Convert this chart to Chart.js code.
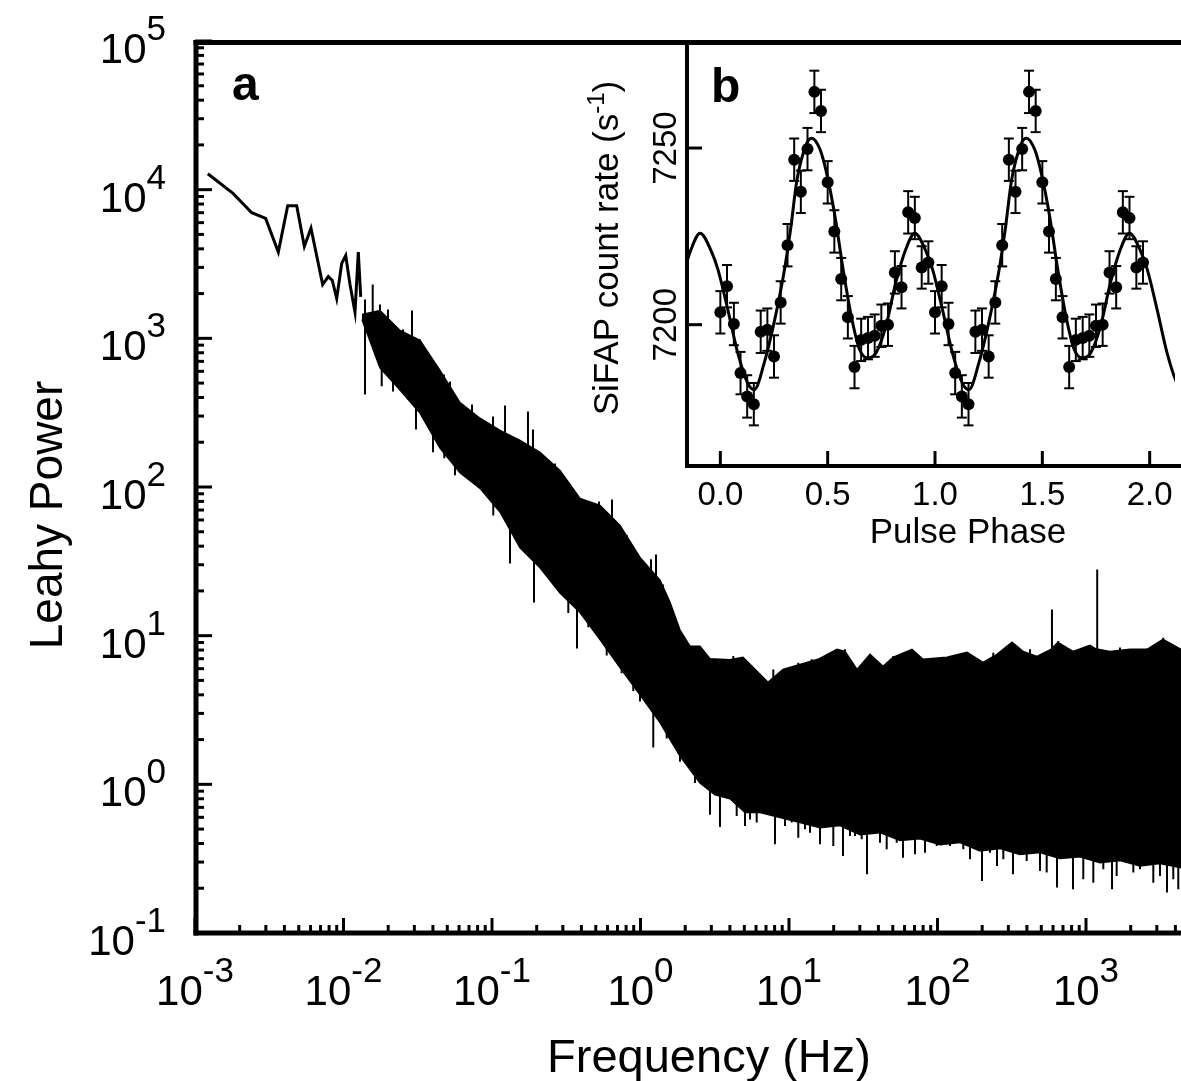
<!DOCTYPE html>
<html>
<head>
<meta charset="utf-8">
<script src="https://cdn.jsdelivr.net/npm/chart.js@4.4.1/dist/chart.umd.min.js"></script>
<style>
  html, body { margin: 0; padding: 0; background: #fff; overflow: hidden; }
  #wrap { position: relative; width: 1181px; height: 1081px; }
  #wrap canvas { position: absolute; left: 0; top: 0; }
</style>
</head>
<body>
<div id="wrap">
  <canvas id="main" width="1181" height="1081"></canvas>
  <canvas id="inset" width="1181" height="1081"></canvas>
</div>
<script>
// ---- panel a : Leahy power spectrum ----

// lowest frequency bins, drawn as a single line
const lowFreq  = [0.00122, 0.00181, 0.00241, 0.00299, 0.00364, 0.00421, 0.00484, 0.00545, 0.00604, 0.00724,
                  0.00790, 0.00841, 0.00900, 0.00973, 0.01035, 0.01106, 0.01195, 0.01258, 0.01306];
const lowPower = [12800, 9400, 7000, 6400, 3800, 7800, 7800, 4150, 5500, 2300,
                  2600, 2450, 1850, 3200, 3600, 2300, 1500, 3800, 1900];

// dense part: upper edge of the solid noise band
const topFreq  = [0.01332, 0.01761, 0.02402, 0.03274, 0.04465, 0.06087, 0.08302, 0.1132, 0.1544, 0.2105,
                  0.2870, 0.3914, 0.5337, 0.7278, 0.9922, 1.353, 1.580, 1.845, 2.154, 2.516,
                  2.938, 4.006, 4.900, 6.682, 7.222, 9.113, 11.86, 15.68, 21.05, 23.84,
                  28.70, 35.12, 42.95, 50.14, 67.34, 79.89, 115.9, 158.0, 202.5, 251.6,
                  317.6, 376.5, 467.7, 581, 599, 647.8, 817.4, 1064, 1177, 1204,
                  1451, 1978, 2576, 3300, 4363];
const topPower = [1448, 1540, 1130, 968, 608, 370, 290, 240, 206, 171,
                  129, 83.8, 75.2, 55.2, 33.6, 23.6, 16.8, 10.9, 8.5, 8.5,
                  7.0, 6.9, 7.15, 5.24, 4.85, 5.93, 6.41, 6.93, 8.09, 7.84,
                  5.93, 7.48, 6.22, 7.15, 8.09, 6.93, 7.15, 7.72, 6.61, 7.48,
                  9.02, 7.84, 7.26, 8.09, 8.34, 9.02, 7.84, 8.61, 8.09, 8.09,
                  7.84, 8.09, 8.09, 9.44, 8.09];

// lower edge of the solid noise band
const botFreq  = [0.01332, 0.01761, 0.02402, 0.03274, 0.04465, 0.06087, 0.08302, 0.1132, 0.1544, 0.2105,
                  0.2870, 0.3914, 0.5337, 0.7278, 0.9922, 1.353, 1.845, 2.516, 3.175, 4.006,
                  5.055, 6.378, 8.699, 11.86, 16.18, 22.05, 30.07, 41.01, 55.92, 76.25,
                  104.0, 141.8, 193.3, 263.7, 359.4, 490.0, 668.2, 911.2, 1243, 1694,
                  2310, 3150, 4363];
const botPower = [1340, 632, 449, 314, 183, 125, 98, 68, 39, 28.6,
                  19.4, 14.3, 9.4, 6.1, 4.0, 2.6, 1.55, 1.02, 0.85, 0.80,
                  0.646, 0.646, 0.598, 0.553, 0.511, 0.528, 0.459, 0.473, 0.419, 0.431,
                  0.393, 0.406, 0.356, 0.370, 0.337, 0.348, 0.317, 0.326, 0.297, 0.307,
                  0.282, 0.293, 0.275];

// single bins sticking out above the band (tip, and where they leave the band)
const upFreq = [0.01396, 0.01573, 0.01761, 0.01994, 0.02516, 0.02893, 0.03274, 0.04750, 0.05215, 0.07333,
                0.1016, 0.1224, 0.1592, 0.1747, 0.1888, 0.2655, 0.4431, 0.5254, 0.6428, 0.8111,
                1.177, 1.272, 1.417, 4.217, 7.841, 11.55, 14.22, 20.95, 23.84, 35.12,
                50.40, 67.04, 118.2, 161.2, 237.5, 316.0, 419.7, 590, 651, 1064,
                1190, 1694, 2563, 3316, 4081];
const upTip  = [1827, 2304, 1690, 1564, 1148, 1540, 983, 572, 513, 359,
                298, 354, 193, 322, 244, 144, 77.6, 80.0, 82.5, 47.3,
                32.6, 35.2, 22.1, 7.29, 5.93, 6.58, 6.93, 8.09, 8.09, 7.48,
                7.29, 8.09, 7.11, 7.69, 7.69, 8.97, 8.09, 15.0, 9.20, 8.61,
                27.9, 8.31, 8.18, 9.70, 8.31];
const upBase = [1430, 1400, 1340, 1180, 960, 900, 842, 480, 420, 270,
                225, 200, 175, 170, 160, 118, 70, 65, 55, 40,
                23, 22, 18, 5.8, 4.7, 5.3, 5.5, 6.5, 6.5, 6.0,
                5.8, 6.5, 5.7, 6.2, 6.2, 7.2, 6.5, 7.5, 7.4, 6.9,
                7.5, 6.6, 6.5, 7.8, 6.6];

// single bins sticking out below the band
const dnFreq = [0.01396, 0.01808, 0.02154, 0.02719, 0.03078, 0.04006, 0.04774, 0.05632, 0.07482, 0.1020,
                0.1322, 0.1918, 0.2796, 0.3265, 0.3736, 0.4452, 0.5337, 0.5922, 0.7468, 0.8943,
                0.9922, 1.219, 1.501, 1.845, 2.328, 2.938, 3.430, 4.444, 5.055, 5.464,
                6.061, 7.449, 8.049, 9.399, 10.43, 11.55, 12.81, 13.85, 16.18, 19.88,
                23.10, 25.75, 27.82, 30.87, 33.52, 41.01, 45.49, 53.12, 58.58, 70.55,
                82.39, 98.8, 121.4, 149.2, 165.5, 199.4, 225.7, 251.6, 277.5, 322.5,
                398.7, 490.0, 543.7, 637.8, 817.4, 958.9, 1120, 1308, 1497, 1609,
                2083, 2310, 2840, 3150, 3512, 3871, 4183];
const dnTip  = [419, 476, 439, 388, 244, 171, 156, 120, 107, 64.4,
                30.6, 16.7, 20.9, 14.2, 8.21, 11.4, 9.68, 7.36, 5.59, 4.25,
                3.61, 1.77, 2.03, 1.42, 1.02, 0.624, 0.516, 0.612, 0.524, 0.581,
                0.553, 0.645, 0.395, 0.524, 0.553, 0.438, 0.498, 0.473, 0.395, 0.385,
                0.330, 0.449, 0.449, 0.427, 0.248, 0.405, 0.366, 0.405, 0.321, 0.338,
                0.347, 0.385, 0.385, 0.366, 0.313, 0.224, 0.347, 0.282, 0.313, 0.248,
                0.305, 0.261, 0.255, 0.202, 0.197, 0.230, 0.218, 0.268, 0.197, 0.242,
                0.255, 0.268, 0.218, 0.242, 0.187, 0.230, 0.197];
const dnBase = [1240, 817, 678, 529, 468, 303, 226, 182, 142, 104,
                68.5, 40.5, 27.1, 22.1, 19.6, 15.5, 12.5, 10.7, 7.84, 6.12,
                5.32, 4.09, 2.91, 2.07, 1.22, 1.0, 0.95, 0.95, 0.9, 0.9,
                0.9, 0.85, 0.8, 0.8, 0.78, 0.75, 0.72, 0.72, 0.7, 0.7,
                0.7, 0.65, 0.62, 0.62, 0.62, 0.6, 0.6, 0.57, 0.57, 0.56,
                0.55, 0.55, 0.53, 0.52, 0.5, 0.48, 0.48, 0.48, 0.47, 0.45,
                0.45, 0.45, 0.43, 0.42, 0.42, 0.42, 0.4, 0.4, 0.4, 0.4,
                0.38, 0.38, 0.38, 0.38, 0.38, 0.36, 0.36];

// axis decades and their exponent labels
const xDecades = [1e-3, 1e-2, 1e-1, 1, 10, 100, 1000];
const xExpLabels = ['-3', '-2', '-1', '0', '1', '2', '3'];
const yDecades = [1e-1, 1, 10, 100, 1000, 1e4, 1e5];
const yExpLabels = ['-1', '0', '1', '2', '3', '4', '5'];

// ---- panel b : folded pulse profile ----
const phase = [0.000, 0.031, 0.063, 0.094, 0.125, 0.156, 0.188, 0.219, 0.250, 0.281,
               0.313, 0.344, 0.375, 0.406, 0.438, 0.469, 0.500, 0.531, 0.563, 0.594,
               0.625, 0.656, 0.688, 0.719, 0.750, 0.781, 0.813, 0.844, 0.875, 0.906,
               0.938, 0.969];
const rate  = [7203.5, 7210.9, 7200.2, 7186.3, 7179.7, 7177.5, 7198.0, 7198.6, 7191.0, 7206.3,
               7222.5, 7246.7, 7237.6, 7249.7, 7265.9, 7260.5, 7240.3, 7226.4, 7212.9, 7202.1,
               7188.0, 7195.7, 7196.2, 7196.9, 7199.7, 7200.0, 7214.8, 7210.6, 7231.8, 7230.2,
               7216.2, 7217.6];
const rateErr = [6, 6, 6, 6, 6, 6, 6, 6, 6, 6,
                 6, 6, 6, 6, 6, 6, 6, 6, 6, 6,
                 6, 6, 6, 6, 6, 6, 6, 6, 6, 6,
                 6, 6];
// model curve, one cycle
const fitPhase = [0.035, 0.081, 0.127, 0.158, 0.204, 0.250, 0.296, 0.327, 0.357, 0.403,
                  0.426, 0.465, 0.495, 0.534, 0.572, 0.610, 0.649, 0.687, 0.725, 0.771,
                  0.817, 0.863, 0.906, 0.955, 0.989];
const fitRate  = [7204.2, 7192.0, 7183.5, 7181.6, 7189.1, 7200.5, 7214.6, 7226.9, 7241.0, 7251.4,
                  7252.8, 7249.5, 7242.9, 7230.7, 7215.6, 7202.4, 7192.9, 7190.6, 7192.0, 7199.5,
                  7211.8, 7221.2, 7225.9, 7221.2, 7215.6];
const phaseTicks = [0, 0.5, 1, 1.5, 2];
const phaseLabels = ['0.0', '0.5', '1.0', '1.5', '2.0'];
const rateTicks = [7200, 7250];
const rateLabels = ['7200', '7250'];

const FONT = '"Liberation Sans", Arial, Helvetica, sans-serif';

function pts(xs, ys) {
  return xs.map(function (v, i) { return { x: v, y: ys[i] }; });
}

// vertical segments, broken by null gaps
function spikes(xs, lo, hi) {
  const out = [];
  xs.forEach(function (v, i) {
    out.push({ x: v, y: lo[i] }, { x: v, y: hi[i] }, { x: v, y: null });
  });
  return out;
}

function seg(ctx, x1, y1, x2, y2) {
  ctx.beginPath();
  ctx.moveTo(x1, y1);
  ctx.lineTo(x2, y2);
  ctx.stroke();
}

// "10" with a raised exponent
function drawPow(ctx, exp, x, y, align) {
  ctx.font = '42px ' + FONT;
  const wb = ctx.measureText('10').width;
  ctx.font = '35px ' + FONT;
  const we = ctx.measureText(exp).width;
  const x0 = align === 'right' ? x - wb - we : x - (wb + we) / 2;
  ctx.textAlign = 'left';
  ctx.textBaseline = 'alphabetic';
  ctx.font = '42px ' + FONT;
  ctx.fillText('10', x0, y);
  ctx.font = '35px ' + FONT;
  ctx.fillText(exp, x0 + wb, y - 23);
}

// frame, inward ticks and labels of panel a
const frameA = {
  id: 'frameA',
  afterDraw(chart) {
    const ctx = chart.ctx, a = chart.chartArea;
    const x = chart.scales.x, y = chart.scales.y;
    ctx.save();
    ctx.strokeStyle = '#000';
    ctx.fillStyle = '#000';

    // minor + major ticks
    ctx.lineWidth = 3;
    for (let d = -3; d <= 4; d++) {
      for (let m = 1; m < 10; m++) {
        const v = m * Math.pow(10, d);
        if (v >= x.min && v <= x.max) {
          const px = x.getPixelForValue(v);
          seg(ctx, px, a.bottom, px, a.bottom - (m === 1 ? 15 : 8));
        }
      }
    }
    for (let d = -1; d <= 5; d++) {
      for (let m = 1; m < 10; m++) {
        const v = m * Math.pow(10, d);
        if (v >= y.min && v <= y.max * 1.0001) {
          const py = y.getPixelForValue(v);
          seg(ctx, a.left, py, a.left + (m === 1 ? 17 : 9), py);
        }
      }
    }

    // frame
    ctx.lineWidth = 5;
    seg(ctx, a.left + 1, a.top - 1, a.left + 1, a.bottom + 2.5);
    seg(ctx, a.left - 1.5, a.top + 1.5, chart.width, a.top + 1.5);
    seg(ctx, a.left - 1.5, a.bottom, chart.width, a.bottom);

    // tick labels
    xDecades.forEach(function (v, i) {
      drawPow(ctx, xExpLabels[i], x.getPixelForValue(v), a.bottom + 72, 'center');
    });
    yDecades.forEach(function (v, i) {
      drawPow(ctx, yExpLabels[i], 166, y.getPixelForValue(v) + 22, 'right');
    });

    // axis titles
    ctx.textAlign = 'center';
    ctx.textBaseline = 'alphabetic';
    ctx.font = '47px ' + FONT;
    ctx.fillText('Frequency (Hz)', 709, 1072);
    ctx.save();
    ctx.translate(62, 515);
    ctx.rotate(-Math.PI / 2);
    ctx.font = '46px ' + FONT;
    ctx.fillText('Leahy Power', 0, 0);
    ctx.restore();

    // panel letter
    ctx.textAlign = 'left';
    ctx.font = 'bold 48px ' + FONT;
    ctx.fillText('a', 232, 100);
    ctx.restore();
  }
};

new Chart(document.getElementById('main'), {
  type: 'line',
  data: {
    datasets: [
      { data: pts(lowFreq, lowPower), borderColor: '#000', borderWidth: 3, pointRadius: 0, fill: false },
      { data: pts(topFreq, topPower), borderColor: '#000', borderWidth: 1.5, pointRadius: 0,
        backgroundColor: '#000', fill: '+1' },
      { data: pts(botFreq, botPower), borderColor: '#000', borderWidth: 1.5, pointRadius: 0, fill: false },
      { data: spikes(upFreq, upBase, upTip), borderColor: '#000', borderWidth: 2, pointRadius: 0, fill: false },
      { data: spikes(dnFreq, dnBase, dnTip), borderColor: '#000', borderWidth: 2, pointRadius: 0, fill: false }
    ]
  },
  options: {
    responsive: false,
    animation: false,
    devicePixelRatio: 1,
    events: [],
    layout: { padding: { left: 195, top: 41, right: 0, bottom: 148 } },
    plugins: { legend: { display: false }, tooltip: { enabled: false } },
    scales: {
      x: { type: 'logarithmic', min: 0.001, max: 4363, display: false },
      y: { type: 'logarithmic', min: 0.1, max: 1e5, display: false }
    }
  },
  plugins: [frameA]
});

// ---- inset (panel b) ----
const fitPts = [];
[-1, 0, 1, 2].forEach(function (c) {
  fitPhase.forEach(function (p, i) { fitPts.push({ x: p + c, y: fitRate[i] }); });
});
const profPts = [], profErr = [];
[0, 1].forEach(function (c) {
  phase.forEach(function (p, i) { profPts.push({ x: p + c, y: rate[i] }); profErr.push(rateErr[i]); });
});

const frameB = {
  id: 'frameB',
  afterDatasetsDraw(chart) {
    const ctx = chart.ctx, a = chart.chartArea;
    const x = chart.scales.x, y = chart.scales.y;
    ctx.save();
    ctx.strokeStyle = '#000';
    ctx.fillStyle = '#000';

    // error bars
    ctx.lineWidth = 2;
    profPts.forEach(function (p, i) {
      const px = x.getPixelForValue(p.x);
      const y1 = y.getPixelForValue(p.y + profErr[i]);
      const y2 = y.getPixelForValue(p.y - profErr[i]);
      seg(ctx, px, y1, px, y2);
      seg(ctx, px - 5, y1, px + 5, y1);
      seg(ctx, px - 5, y2, px + 5, y2);
    });

    // ticks
    ctx.lineWidth = 3;
    phaseTicks.forEach(function (v) {
      const px = x.getPixelForValue(v);
      seg(ctx, px, a.bottom, px, a.bottom - 15);
    });
    rateTicks.forEach(function (v) {
      const py = y.getPixelForValue(v);
      seg(ctx, a.left, py, a.left + 16, py);
    });

    // frame
    ctx.lineWidth = 4;
    seg(ctx, a.left + 1, a.top, a.left + 1, a.bottom + 2);
    seg(ctx, a.left - 1, a.bottom, chart.width, a.bottom);

    // tick labels
    ctx.font = '33px ' + FONT;
    ctx.textAlign = 'center';
    ctx.textBaseline = 'alphabetic';
    phaseTicks.forEach(function (v, i) {
      ctx.fillText(phaseLabels[i], x.getPixelForValue(v), 505);
    });
    rateTicks.forEach(function (v, i) {
      ctx.save();
      ctx.translate(676, y.getPixelForValue(v));
      ctx.rotate(-Math.PI / 2);
      ctx.fillText(rateLabels[i], 0, 0);
      ctx.restore();
    });

    // titles
    ctx.font = '35px ' + FONT;
    ctx.fillText('Pulse Phase', 968, 543);

    ctx.save();
    ctx.translate(618, 248);
    ctx.rotate(-Math.PI / 2);
    const main = 'SiFAP count rate (s', sup = '-1', close = ')';
    ctx.font = '35px ' + FONT;
    const w1 = ctx.measureText(main).width, w3 = ctx.measureText(close).width;
    ctx.font = '24px ' + FONT;
    const w2 = ctx.measureText(sup).width;
    const x0 = -(w1 + w2 + w3) / 2;
    ctx.textAlign = 'left';
    ctx.font = '35px ' + FONT;
    ctx.fillText(main, x0, 0);
    ctx.font = '24px ' + FONT;
    ctx.fillText(sup, x0 + w1, -14);
    ctx.font = '35px ' + FONT;
    ctx.fillText(close, x0 + w1 + w2, 0);
    ctx.restore();

    ctx.textAlign = 'left';
    ctx.font = 'bold 48px ' + FONT;
    ctx.fillText('b', 711, 102);
    ctx.restore();
  }
};

new Chart(document.getElementById('inset'), {
  type: 'scatter',
  data: {
    datasets: [
      { type: 'line', data: fitPts, borderColor: '#000', borderWidth: 3, pointRadius: 0,
        cubicInterpolationMode: 'monotone', fill: false },
      { data: profPts, pointRadius: 6, pointBackgroundColor: '#000', pointBorderWidth: 0,
        borderColor: '#000', showLine: false }
    ]
  },
  options: {
    responsive: false,
    animation: false,
    devicePixelRatio: 1,
    events: [],
    layout: { padding: { left: 686, top: 41, right: 0, bottom: 615 } },
    plugins: { legend: { display: false }, tooltip: { enabled: false } },
    scales: {
      x: { type: 'linear', min: -0.16, max: 2.118, display: false },
      y: { type: 'linear', min: 7160, max: 7280.3, display: false }
    }
  },
  plugins: [frameB]
});
</script>
</body>
</html>
